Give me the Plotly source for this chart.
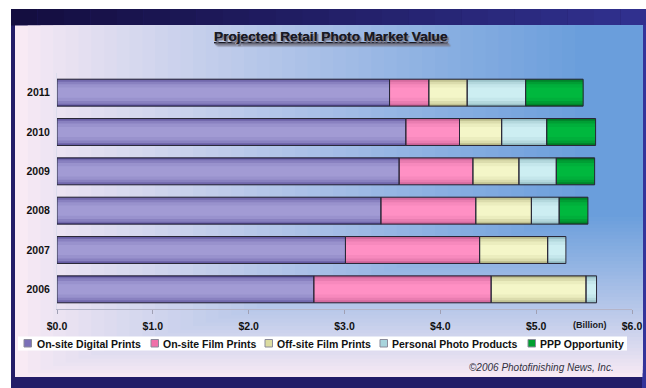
import plotly.graph_objects as go

# ---------------- data ----------------
years = ["2006", "2007", "2008", "2009", "2010", "2011"]
series_names = ["On-site Digital Prints", "On-site Film Prints", "Off-site Film Prints",
                "Personal Photo Products", "PPP Opportunity"]
onsite_digital = [2.68, 3.01, 3.38, 3.57, 3.64, 3.47]
onsite_film = [1.85, 1.40, 0.99, 0.77, 0.56, 0.41]
offsite_film = [0.99, 0.71, 0.58, 0.48, 0.44, 0.40]
personal_photo = [0.11, 0.19, 0.29, 0.39, 0.47, 0.61]
ppp_opportunity = [0.00, 0.00, 0.30, 0.40, 0.51, 0.60]
tick_values = [0, 1, 2, 3, 4, 5, 6]
tick_labels = ["$0.0", "$1.0", "$2.0", "$3.0", "$4.0", "$5.0", "$6.0"]

series_values = [onsite_digital, onsite_film, offsite_film, personal_photo, ppp_opportunity]

# ---------------- styles ----------------
W, H = 646, 388
ML, MR, MT, MB = 57, 14, 73, 79
PW, PH = W - ML - MR, H - MT - MB

def xp(px):
    return (px - ML) / PW

def yp(py):
    return (H - MB - py) / PH

def hex2rgb(h):
    h = h.lstrip("#")
    return tuple(int(h[i:i + 2], 16) for i in (0, 2, 4))

def lerp(c1, c2, t):
    a, b = hex2rgb(c1), hex2rgb(c2)
    return "rgb(%d,%d,%d)" % tuple(round(a[i] + (b[i] - a[i]) * t) for i in range(3))

center_cols = ["#a29bd4", "#ff90c4", "#f4f6c8", "#cdeef2", "#00b83e"]
edge_cols = ["#4a3f8c", "#b04c80", "#9a9a68", "#74a0a8", "#005c1c"]
legend_cols = ["#7a70b8", "#f070a8", "#dcdca0", "#a8d4dc", "#00a030"]

bar_w = 0.686
layers = [(0.686, 0.0), (0.645, 0.45), (0.56, 0.72), (0.43, 0.9), (0.26, 1.0)]

fig = go.Figure()

# cumulative bases
bases = []
run = [0.0] * len(years)
for vals in series_values:
    bases.append(list(run))
    run = [r + v for r, v in zip(run, vals)]

for li, (w, t) in enumerate(layers):
    for si, vals in enumerate(series_values):
        ys = [y for y, v in zip(years, vals) if v > 0]
        xs = [v for v in vals if v > 0]
        bs = [b for b, v in zip(bases[si], vals) if v > 0]
        fig.add_trace(go.Bar(
            orientation="h", y=ys, x=xs, base=bs, width=w,
            marker=dict(color=lerp(edge_cols[si], center_cols[si], t), line=dict(width=0)),
            showlegend=False, hoverinfo="skip", name=series_names[si]))

# outlines
for si, vals in enumerate(series_values):
    ys = [y for y, v in zip(years, vals) if v > 0]
    xs = [v for v in vals if v > 0]
    bs = [b for b, v in zip(bases[si], vals) if v > 0]
    fig.add_trace(go.Bar(
        orientation="h", y=ys, x=xs, base=bs, width=bar_w,
        marker=dict(color="rgba(0,0,0,0)", line=dict(width=1, color="#2a2838")),
        showlegend=False, hoverinfo="skip", name=series_names[si]))

shapes = []
# outer dark frame
shapes.append(dict(type="rect", xref="paper", yref="paper", x0=xp(11), x1=xp(647),
                   y0=yp(9), y1=yp(389), fillcolor="#231d68", line=dict(width=0), layer="below"))
# top band gradient
N = 24
for i in range(N):
    x0 = 11 + (647 - 11) * i / N
    x1 = 11 + (647 - 11) * (i + 1) / N
    shapes.append(dict(type="rect", xref="paper", yref="paper", x0=xp(x0), x1=xp(x1),
                       y0=yp(9), y1=yp(25.5), fillcolor=lerp("#140e40", "#30308e", i / (N - 1)),
                       line=dict(width=0), layer="below"))
# right border slightly bluer
shapes.append(dict(type="rect", xref="paper", yref="paper", x0=xp(642), x1=xp(647),
                   y0=yp(25), y1=yp(389), fillcolor="#34349a", line=dict(width=0), layer="below"))
# inner panel gradient (nested rectangles anchored top-right)
N = 44
pink, blue = "#f8eaf4", "#6a9edc"
for k in range(N + 1):
    t = k / N
    x0 = 15 + t * 560
    y1 = 377 - t * 160
    shapes.append(dict(type="rect", xref="paper", yref="paper", x0=xp(x0), x1=xp(642.5),
                       y0=yp(y1), y1=yp(25.5), fillcolor=lerp(pink, blue, t ** 0.9),
                       line=dict(width=0), layer="below"))
# legend box
shapes.append(dict(type="rect", xref="paper", yref="paper", x0=xp(18), x1=xp(627),
                   y0=yp(350.5), y1=yp(336.5), fillcolor="white", line=dict(width=0), layer="below"))
legend_marker_x = [24, 151, 265, 380, 528]
legend_text_x = [35, 161, 275, 390, 538]
annotations = []
for i, name in enumerate(series_names):
    mx = legend_marker_x[i]
    shapes.append(dict(type="rect", xref="paper", yref="paper", x0=xp(mx), x1=xp(mx + 7.5),
                       y0=yp(347), y1=yp(339.5), fillcolor=legend_cols[i],
                       line=dict(width=1, color="#8a8a9a")))
    annotations.append(dict(xref="paper", yref="paper", x=xp(legend_text_x[i]), y=yp(343.5),
                            xanchor="left", yanchor="middle", showarrow=False,
                            text="<b>%s</b>" % name,
                            font=dict(size=10.5, color="#111111")))

# title with shadow
title = "Projected Retail Photo Market Value"
annotations.append(dict(xref="paper", yref="paper", x=xp(331), y=yp(37), xanchor="center",
                        yanchor="middle", showarrow=False, text="<b><u>%s</u></b>" % title,
                        font=dict(size=13.7, color="#1a1a24", shadow="1.5px 1.5px 1px #7a7a8a")))
# unit label
annotations.append(dict(xref="paper", yref="paper", x=xp(590), y=yp(325), xanchor="center",
                        yanchor="middle", showarrow=False, text="<b>(Billion)</b>",
                        font=dict(size=9, color="#1a1a24")))
# copyright
annotations.append(dict(xref="paper", yref="paper", x=xp(616), y=yp(367), xanchor="right",
                        yanchor="middle", showarrow=False,
                        text="<i>©2006 Photofinishing News, Inc.</i>",
                        font=dict(size=10, color="#303040")))

fig.update_layout(
    width=W, height=H, autosize=False,
    margin=dict(l=ML, r=MR, t=MT, b=MB, pad=0, autoexpand=False),
    paper_bgcolor="white", plot_bgcolor="rgba(0,0,0,0)",
    barmode="overlay", showlegend=False,
    font=dict(family="Liberation Sans, Arial, sans-serif", color="#111111"),
    shapes=shapes, annotations=annotations,
    xaxis=dict(range=[0, 6], tickvals=tick_values,
               ticktext=["<b>%s</b>" % t for t in tick_labels],
               tickfont=dict(size=10.5, color="#111111"),
               showgrid=False, zeroline=False, showline=True, linecolor="#b4b4c8", linewidth=1,
               ticks="outside", ticklen=4, tickcolor="#a0a0b4", ticklabelstandoff=3,
               automargin=False, fixedrange=True),
    yaxis=dict(type="category", categoryorder="array", categoryarray=years,
               tickfont=dict(size=10.5, color="#111111"),
               ticktext=["<b>%s</b>" % y for y in years], tickvals=years,
               showgrid=False, zeroline=False, showline=True, linecolor="#dcdcec", linewidth=1,
               ticks="", ticklabelstandoff=4, range=[-0.5, 5.5], automargin=False,
               fixedrange=True),
)

fig.write_html("out.html", config={"displayModeBar": False})
